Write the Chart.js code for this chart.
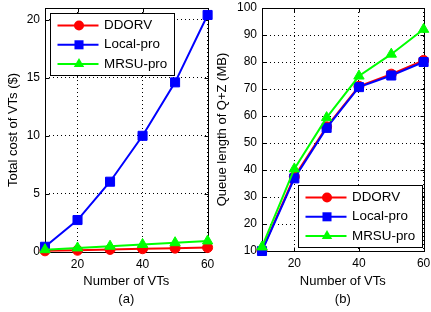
<!DOCTYPE html>
<html>
<head>
<meta charset="utf-8">
<script src="https://cdn.jsdelivr.net/npm/chart.js@4"></script>
<style>
  html, body { margin: 0; padding: 0; background: #fff; }
  #wrap { position: relative; width: 431px; height: 312px; overflow: hidden; }
  .pane { position: absolute; top: 0; height: 312px; }
</style>
</head>
<body>
<div id="wrap">
  <div class="pane" style="left:0;width:215px"><canvas id="costChart" width="215" height="312"></canvas></div>
  <div class="pane" style="left:213px;width:218px"><canvas id="queueChart" width="218" height="312"></canvas></div>
</div>
<script>
// values
const xValues = [10, 20, 30, 40, 50, 60];
const seriesNames = ['DDORV', 'Local-pro', 'MRSU-pro'];
const costDDORV = [0.1, 0.15, 0.22, 0.28, 0.33, 0.38];
const costLocal = [0.45, 2.75, 6.05, 10.0, 14.6, 20.4];
const costMRSU = [0.2, 0.35, 0.5, 0.65, 0.8, 0.95];
const queueDDORV = [10.2, 37.5, 56, 71, 75.5, 80.6];
const queueLocal = [10, 36.9, 55.6, 70.7, 75, 80];
const queueMRSU = [11.5, 40.4, 59.4, 74.8, 82.9, 92.1];
const xTicks = [20, 40, 60];
const costTicks = [0, 5, 10, 15, 20];
const queueTicks = [10, 20, 30, 40, 50, 60, 70, 80, 90, 100];

const FONT = '"Liberation Sans", Arial, Helvetica, sans-serif';
const toPoints = ys => xValues.map((x, i) => ({ x: x, y: ys[i] }));

function makeDataset(label, ys, color, style, radius, order) {
    return {
        label: label,
        data: toPoints(ys),
        borderColor: color,
        backgroundColor: color,
        borderWidth: 2,
        pointStyle: style,
        pointRadius: radius,
        pointHoverRadius: radius,
        pointBorderWidth: 1,
        clip: false,
        order: order,
    };
}

function drawMarker(ctx, style, r, cx, cy, color) {
    ctx.fillStyle = color;
    ctx.beginPath();
    if (style === 'circle') {
        ctx.arc(cx, cy, r, 0, Math.PI * 2);
    } else if (style === 'rect') {
        const s = r * Math.SQRT1_2;
        ctx.rect(cx - s, cy - s, 2 * s, 2 * s);
    } else {
        let rad = 0;
        for (let k = 0; k < 3; k++) {
            const px = cx + Math.sin(rad) * r, py = cy - Math.cos(rad) * r;
            if (k === 0) ctx.moveTo(px, py); else ctx.lineTo(px, py);
            rad += Math.PI * 2 / 3;
        }
        ctx.closePath();
    }
    ctx.fill();
}

// axes box + inward ticks, drawn under the lines
const framePlugin = {
    id: 'frame',
    beforeDatasetsDraw(chart) {
        const { ctx, chartArea: a, scales } = chart;
        const L = Math.round(a.left) + 0.5, R = Math.round(a.right) + 0.5;
        const T = Math.round(a.top) + 0.5, B = Math.round(a.bottom) + 0.5;
        ctx.save();
        ctx.strokeStyle = '#000';
        ctx.lineWidth = 1;
        ctx.strokeRect(L, T, R - L, B - T);
        ctx.beginPath();
        scales.x.ticks.forEach(t => {
            const px = Math.round(scales.x.getPixelForValue(t.value)) + 0.5;
            ctx.moveTo(px, B); ctx.lineTo(px, B - 4);
            ctx.moveTo(px, T); ctx.lineTo(px, T + 4);
        });
        scales.y.ticks.forEach(t => {
            const py = Math.round(scales.y.getPixelForValue(t.value)) + 0.5;
            ctx.moveTo(L, py); ctx.lineTo(L + 4, py);
            ctx.moveTo(R, py); ctx.lineTo(R - 4, py);
        });
        ctx.stroke();
        ctx.restore();
    }
};

// matlab style legend: boxed, line with marker
const boxLegend = {
    id: 'boxLegend',
    afterDraw(chart, args, opts) {
        const { ctx, chartArea: a } = chart;
        const w = 124, h = 62;
        const x = Math.round(opts.corner === 'topLeft' ? a.left + 5 : a.right - 1.5 - w) + 0.5;
        const y = Math.round(opts.corner === 'topLeft' ? a.top + 5 : a.bottom - 4 - h) + 0.5;
        ctx.save();
        ctx.fillStyle = '#fff';
        ctx.fillRect(x, y, w, h);
        ctx.strokeStyle = '#000';
        ctx.lineWidth = 1;
        ctx.strokeRect(x, y, w, h);
        chart.data.datasets.forEach((ds, i) => {
            const cy = y + 12 + i * 19.3;
            ctx.strokeStyle = ds.borderColor;
            ctx.lineWidth = 2;
            ctx.beginPath();
            ctx.moveTo(x + 7, cy);
            ctx.lineTo(x + 48, cy);
            ctx.stroke();
            drawMarker(ctx, ds.pointStyle, ds.pointRadius, x + 28.5, cy, ds.borderColor);
            ctx.fillStyle = '#000';
            ctx.font = '13.4px ' + FONT;
            ctx.textBaseline = 'middle';
            ctx.textAlign = 'left';
            ctx.fillText(ds.label, x + 53.5, cy);
        });
        ctx.restore();
    }
};

function buildChart(canvasId, cfg) {
    const ctx = document.getElementById(canvasId).getContext('2d');
    return new Chart(ctx, {
        type: 'line',
        data: {
            datasets: [
                makeDataset(seriesNames[0], cfg.series[0], '#ff0000', 'circle', 5, 3),
                makeDataset(seriesNames[1], cfg.series[1], '#0000ff', 'rect', 6.4, 2),
                makeDataset(seriesNames[2], cfg.series[2], '#00ff00', 'triangle', 6, 1),
            ],
        },
        options: {
            responsive: false,
            animation: false,
            devicePixelRatio: 1,
            events: [],
            layout: { padding: { top: 8, right: cfg.padRight, left: 0, bottom: 0 } },
            plugins: {
                legend: { display: false },
                tooltip: { enabled: false },
                boxLegend: { corner: cfg.legendCorner },
            },
            scales: {
                x: {
                    type: 'linear',
                    min: 10,
                    max: 60,
                    afterBuildTicks: s => { s.ticks = xTicks.map(v => ({ value: v })); },
                    afterFit: s => { s.height = cfg.xHeight; s.paddingLeft = 0; s.paddingRight = 0; },
                    ticks: { color: '#000', padding: 5, font: { family: FONT, size: 12 }, maxRotation: 0 },
                    grid: { color: '#000', lineWidth: 1, drawTicks: false },
                    border: { display: false, dash: [1, 3] },
                    title: {
                        display: true,
                        text: ['Number of VTs', cfg.caption],
                        color: '#000',
                        font: { family: FONT, size: 13, lineHeight: 1.35 },
                        padding: { top: 0, bottom: 4 },
                    },
                },
                y: {
                    type: 'linear',
                    min: cfg.yMin,
                    max: cfg.yMax,
                    afterBuildTicks: s => { s.ticks = cfg.yTicks.map(v => ({ value: v })); },
                    afterFit: s => { s.width = cfg.yWidth; s.paddingTop = 0; s.paddingBottom = 0; },
                    ticks: { color: '#000', padding: 5, font: { family: FONT, size: 12 } },
                    grid: { color: '#000', lineWidth: 1, drawTicks: false },
                    border: { display: false, dash: [1, 3] },
                    title: {
                        display: true,
                        text: cfg.yTitle,
                        color: '#000',
                        font: { family: FONT, size: 13, lineHeight: 1.3 },
                        padding: { top: cfg.yTitlePad, bottom: 0 },
                    },
                },
            },
        },
        plugins: [framePlugin, boxLegend],
    });
}

buildChart('costChart', {
    series: [costDDORV, costLocal, costMRSU],
    yMin: 0, yMax: 21, yTicks: costTicks,
    yTitle: 'Total cost of VTs ($)',
    caption: '(a)',
    yWidth: 45, xHeight: 60, padRight: 7, yTitlePad: 4.5,
    legendCorner: 'topLeft',
});

buildChart('queueChart', {
    series: [queueDDORV, queueLocal, queueMRSU],
    yMin: 10, yMax: 100, yTicks: queueTicks,
    yTitle: 'Queue length of Q+Z (MB)',
    caption: '(b)',
    yWidth: 49, xHeight: 61, padRight: 6, yTitlePad: 1,
    legendCorner: 'bottomRight',
});
</script>
</body>
</html>
